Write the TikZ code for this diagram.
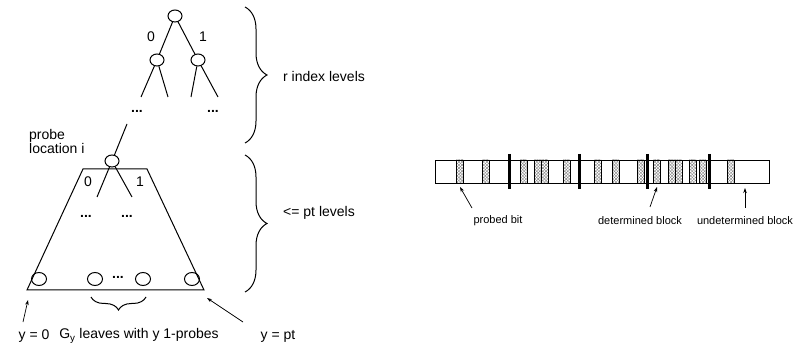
\documentclass[tikz,border=0pt]{standalone}
\usepackage{fontspec}
\setmainfont{Liberation Sans}
\usetikzlibrary{shapes.geometric,arrows.meta,decorations.pathreplacing,patterns.meta}
\begin{document}
\begin{tikzpicture}[x=1pt,y=-1pt,
  treenode/.style={draw,ellipse,minimum width=14pt,minimum height=12pt,inner sep=0pt,line width=1pt},
  edge/.style={line width=1pt},
  bigtxt/.style={font=\fontsize{14}{14}\selectfont,inner sep=0pt},
  smalltxt/.style={font=\fontsize{11}{12}\selectfont,inner sep=0pt},
  dots/.style={font=\fontsize{14}{14}\selectfont\bfseries,inner sep=0pt},
  ptr/.style={line width=0.7pt,-{Stealth[length=5pt,width=3.5pt]}},
  rbrace/.style={decorate,decoration={brace,amplitude=#1},line width=1pt},
  cell/.style={draw,line width=0.8pt},
  blockedge/.style={line width=3pt}]
\useasboundingbox (0,0) rectangle (795,347);

% ---- index tree ----
\node[treenode] (r) at (175,16) {};
\node[treenode] (a) at (157,60) {};
\node[treenode] (b) at (198,60) {};
\draw[edge] (r) -- (a);
\draw[edge] (r) -- (b);
\node[bigtxt] at (151,37) {0};
\node[bigtxt] at (203,37) {1};
\coordinate (a1) at (141,97);
\coordinate (a2) at (168,97);
\coordinate (b1) at (191,97);
\coordinate (b2) at (218,97);
\draw[edge] (a) -- (a1);
\draw[edge] (a) -- (a2);
\draw[edge] (b) -- (b1);
\draw[edge] (b) -- (b2);
\node[dots] (d1) at (137,111) {...};
\node[dots] (d2) at (213,111) {...};

% ---- probe node and subtree ----
\node[treenode] (p) at (112,161) {};
\coordinate (up) at (127,124);
\draw[edge] (up) -- (p);
\node[bigtxt,anchor=west,align=left] (pl) at (29,141) {probe\\location i};

\coordinate (tl) at (83,169);
\coordinate (tr) at (147,169);
\coordinate (bl) at (27,290);
\coordinate (br) at (204,290);
\draw[edge] (tl) -- (tr) -- (br) -- (bl) -- cycle;
\coordinate (p1) at (97,197);
\coordinate (p2) at (132,197);
\draw[edge] (p) -- (p1);
\draw[edge] (p) -- (p2);
\node[bigtxt] at (88,182) {0};
\node[bigtxt] at (140,182) {1};
\node[dots] at (86,216) {...};
\node[dots] at (127,216) {...};

\node[treenode,minimum width=15pt,minimum height=13pt] (l1) at (39,279) {};
\node[treenode,minimum width=15pt,minimum height=13pt] (l2) at (95,279) {};
\node[treenode,minimum width=15pt,minimum height=13pt] (l3) at (143,279) {};
\node[treenode,minimum width=15pt,minimum height=13pt] (l4) at (192,279) {};
\node[dots] at (118,277) {...};

% bottom brace over the G_y leaves
\draw[rbrace=13pt] (146,297) -- (91,297);

% bottom labels
\node[bigtxt] (y0) at (34,336) {y = 0};
\node[bigtxt] (gy) at (139,336) {G\textsubscript{y} leaves with y 1-probes};
\node[bigtxt] (ypt) at (278,336) {y = pt};
\coordinate (y0t) at (23,322);
\coordinate (y0h) at (28,300);
\coordinate (ypt1) at (243,322);
\coordinate (ypth) at (207,298);
\draw[ptr] (y0t) -- (y0h);
\draw[ptr] (ypt1) -- (ypth);

% ---- level braces ----
\draw[rbrace=22pt] (245,7) -- (245,143);
\draw[rbrace=22pt] (245,155) -- (245,292);
\node[bigtxt,anchor=west] (ri) at (283,76) {r index levels};
\node[bigtxt,anchor=west] (pt) at (283,213) {<= pt levels};

% ---- bit string ----
\foreach \l/\r in {456/463,482/489,520/527,534/541,541/548,563/570,594/601,612/619,637/644,653/660,668/675,675/682,689/696,699/706,727/734}{
  \fill[pattern={Lines[angle=45,distance=2.2pt,line width=0.4pt]},pattern color=gray] (\l,160) rectangle (\r,183);
  \fill[pattern={Lines[angle=-45,distance=2.2pt,line width=0.4pt]},pattern color=gray] (\l,160) rectangle (\r,183);
  \draw[cell] (\l,160) rectangle (\r,183);
}
\draw[cell] (435,160) rectangle (769,183);
\foreach \x in {509,579,647,709}{
  \draw[blockedge] (\x,154) -- (\x,189);
}

% bit string labels
\node[smalltxt] (pb) at (498,221) {probed bit};
\node[smalltxt] (db) at (640,221) {determined block};
\node[smalltxt] (ub) at (745,221) {undetermined block};
\coordinate (pbt) at (472,208);
\coordinate (pbh) at (460,187);
\coordinate (dbt) at (650,207);
\coordinate (dbh) at (657,187);
\coordinate (ubt) at (745,208);
\coordinate (ubh) at (745,188);
\draw[ptr] (pbt) -- (pbh);
\draw[ptr] (dbt) -- (dbh);
\draw[ptr] (ubt) -- (ubh);
\end{tikzpicture}
\end{document}
